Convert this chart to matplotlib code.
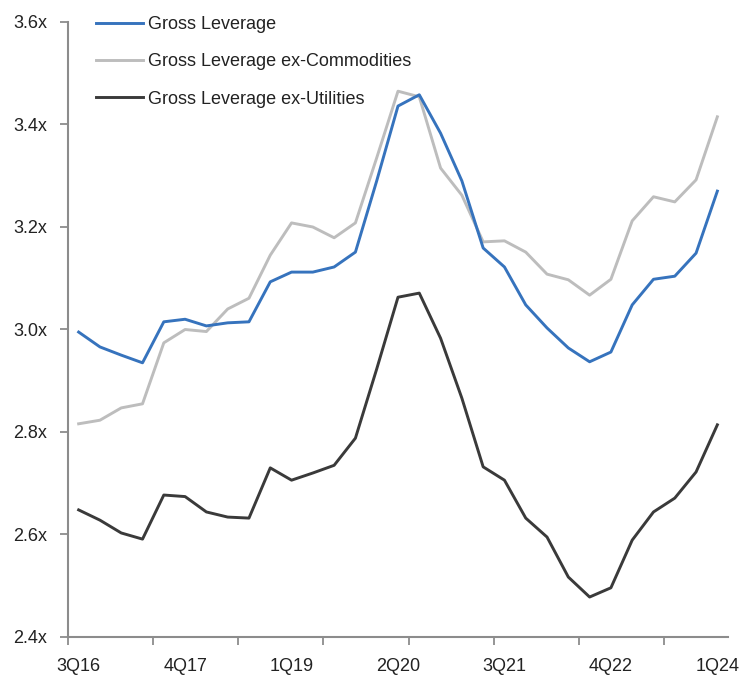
import matplotlib.pyplot as plt
import numpy as np

# quarterly gross leverage, 3Q16 .. 1Q24
quarters = ['3Q16', '4Q16', '1Q17', '2Q17', '3Q17', '4Q17', '1Q18', '2Q18',
            '3Q18', '4Q18', '1Q19', '2Q19', '3Q19', '4Q19', '1Q20', '2Q20',
            '3Q20', '4Q20', '1Q21', '2Q21', '3Q21', '4Q21', '1Q22', '2Q22',
            '3Q22', '4Q22', '1Q23', '2Q23', '3Q23', '4Q23', '1Q24']

gross = [2.995, 2.966, 2.950, 2.935, 3.015, 3.020, 3.007, 3.013, 3.015, 3.093,
         3.112, 3.112, 3.122, 3.151, 3.290, 3.436, 3.458, 3.383, 3.290, 3.159,
         3.122, 3.048, 3.003, 2.964, 2.937, 2.956, 3.048, 3.098, 3.104, 3.149,
         3.270]

ex_commod = [2.816, 2.823, 2.847, 2.855, 2.974, 3.000, 2.996, 3.040, 3.061, 3.145,
             3.208, 3.200, 3.179, 3.208, 3.335, 3.465, 3.454, 3.315, 3.262, 3.171,
             3.173, 3.151, 3.108, 3.097, 3.067, 3.098, 3.212, 3.259, 3.249, 3.292,
             3.415]

ex_util = [2.648, 2.628, 2.603, 2.591, 2.677, 2.674, 2.644, 2.634, 2.632, 2.730,
           2.706, 2.720, 2.735, 2.788, 2.923, 3.063, 3.071, 2.983, 2.866, 2.732,
           2.706, 2.632, 2.595, 2.517, 2.478, 2.496, 2.589, 2.644, 2.671, 2.722,
           2.814]

yticks = [2.4, 2.6, 2.8, 3.0, 3.2, 3.4, 3.6]

plt.rcParams['font.family'] = ['Liberation Sans', 'DejaVu Sans']

fig = plt.figure(figsize=(7.43, 6.77), dpi=100)
ax = fig.add_axes([68/743, 1 - 637/677, (728 - 68)/743, (637 - 22)/677])

x = np.arange(len(quarters))
ax.plot(x, gross, color='#3673bd', lw=2.1, label='Gross Leverage', zorder=3)
ax.plot(x, ex_commod, color='#bdbdbd', lw=2.1, label='Gross Leverage ex-Commodities', zorder=2)
ax.plot(x, ex_util, color='#3a3a3a', lw=2.1, label='Gross Leverage ex-Utilities', zorder=2)

ax.set_xlim(-0.5, len(quarters) - 0.5)
ax.set_ylim(2.4, 3.6)

# tick marks every 4 categories, labels every 5
ax.set_xticks(np.arange(-0.5, len(quarters) - 0.5, 4))
ax.set_xticklabels([])
ax.set_xticks(x[::5], minor=True)
ax.set_xticklabels(quarters[::5], minor=True)
ax.tick_params(axis='x', which='major', length=6, width=1.3, color='#8c8c8c', direction='out')
ax.tick_params(axis='x', which='minor', length=0, pad=15, labelsize=13, labelcolor='#222222')

ax.set_yticks(yticks)
ax.set_yticklabels(['%.1fx' % v for v in yticks])
ax.tick_params(axis='y', length=6, width=1.3, color='#8c8c8c', direction='out',
               pad=9, labelsize=13, labelcolor='#222222')

for side in ['top', 'right']:
    ax.spines[side].set_visible(False)
for side in ['left', 'bottom']:
    ax.spines[side].set_color('#8c8c8c')
    ax.spines[side].set_linewidth(1.5)

leg = ax.legend(loc='upper left', bbox_to_anchor=(0.018, 1.036), frameon=False,
                fontsize=13, handlelength=2.6, handletextpad=0.25,
                labelspacing=1.12)
for t in leg.get_texts():
    t.set_color('#222222')

plt.savefig('out.png', dpi=100)
